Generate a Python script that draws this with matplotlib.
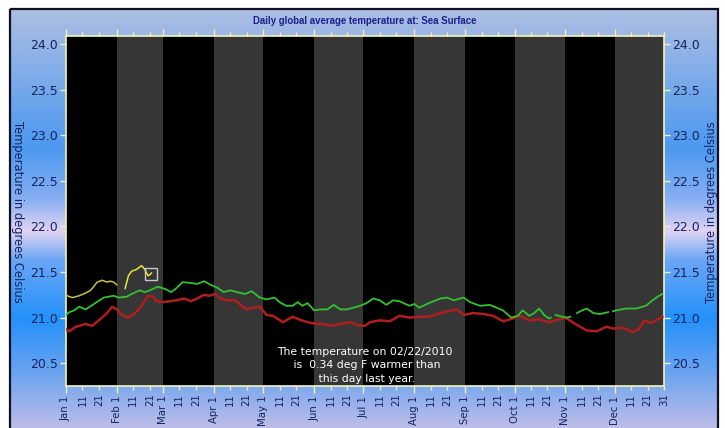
import numpy as np
import matplotlib
matplotlib.use("Agg")
import matplotlib.pyplot as plt
from matplotlib.colors import LinearSegmentedColormap
from matplotlib.patches import Rectangle

# ---------------- data ----------------
month_starts = [0, 31, 59, 90, 120, 151, 181, 212, 243, 273, 304, 334]
month_names = ["Jan", "Feb", "Mar", "Apr", "May", "Jun", "Jul", "Aug", "Sep", "Oct", "Nov", "Dec"]
year_end = 364

yellow_a_days = [0, 2, 4, 8, 12, 15, 19, 22, 25, 27, 29, 31]
yellow_a_vals = [21.25, 21.23, 21.22, 21.24, 21.27, 21.30, 21.39, 21.41, 21.39, 21.40, 21.39, 21.36]
yellow_b_days = [36, 38, 40, 43, 46, 48, 49, 50, 51, 52]
yellow_b_vals = [21.32, 21.46, 21.51, 21.53, 21.57, 21.53, 21.49, 21.46, 21.47, 21.49]
marker_day = 52
marker_val = 21.48

green_days = [0, 2, 5, 8, 12, 17, 23, 29, 32, 37, 40, 45, 48, 51, 56, 61, 64, 67, 71, 76,
              80, 84, 88, 92, 96, 100, 104, 109, 113, 118, 122, 127, 130, 134, 138, 141,
              144, 147, 151, 155, 159, 163, 167, 171, 175, 179, 183, 187, 191, 195, 199,
              203, 209, 212, 215, 221, 228, 232, 236, 242, 246, 252, 258, 262, 266, 271,
              275, 278, 282, 285, 288, 291, 294, 295, 296, 298, 302, 305, 307, 308, 311, 313, 317,
              321, 325, 330, 331, 333, 335, 341, 347, 353, 357, 361, 363]
green_vals = [21.03, 21.06, 21.08, 21.12, 21.09, 21.15, 21.22, 21.24, 21.22, 21.23, 21.26,
              21.30, 21.28, 21.30, 21.34, 21.31, 21.28, 21.32, 21.39, 21.38, 21.37, 21.40,
              21.36, 21.33, 21.28, 21.30, 21.28, 21.26, 21.29, 21.22, 21.20, 21.22, 21.17,
              21.13, 21.13, 21.17, 21.13, 21.16, 21.08, 21.09, 21.09, 21.14, 21.09, 21.09,
              21.11, 21.13, 21.16, 21.21, 21.19, 21.14, 21.19, 21.18, 21.13, 21.15, 21.11,
              21.16, 21.21, 21.22, 21.19, 21.22, 21.17, 21.13, 21.14, 21.11, 21.08, 21.00,
              21.02, 21.08, 21.02, 21.05, 21.10, 21.03, 20.99, 21.00, np.nan, 21.03, 21.01,
              21.00, 21.01, np.nan, 21.05, 21.07, 21.10, 21.05, 21.04, 21.06, np.nan, 21.07,
              21.08, 21.10, 21.10, 21.13, 21.19, 21.24, 21.26]

red_days = [0, 2, 6, 12, 16, 20, 25, 28, 31, 34, 38, 42, 46, 50, 53, 55, 59, 63, 67, 72,
            76, 80, 84, 87, 91, 94, 98, 103, 107, 110, 114, 118, 122, 126, 132, 138, 142,
            147, 153, 157, 161, 167, 173, 177, 182, 185, 191, 197, 203, 209, 215, 221, 228,
            232, 238, 242, 248, 254, 260, 266, 272, 276, 282, 288, 294, 300, 304, 311, 317,
            323, 329, 333, 339, 345, 349, 352, 356, 361, 363]
red_vals = [20.87, 20.85, 20.90, 20.93, 20.91, 20.97, 21.05, 21.12, 21.09, 21.03, 21.00,
            21.05, 21.13, 21.24, 21.23, 21.18, 21.17, 21.18, 21.19, 21.21, 21.18, 21.21,
            21.25, 21.24, 21.26, 21.21, 21.19, 21.19, 21.13, 21.09, 21.11, 21.12, 21.03,
            21.02, 20.95, 21.01, 20.98, 20.95, 20.93, 20.93, 20.91, 20.93, 20.95, 20.92,
            20.91, 20.95, 20.97, 20.96, 21.02, 21.00, 21.01, 21.01, 21.05, 21.07, 21.09,
            21.03, 21.05, 21.04, 21.02, 20.96, 20.99, 21.02, 20.97, 20.98, 20.95, 20.98,
            21.00, 20.92, 20.86, 20.85, 20.90, 20.88, 20.89, 20.84, 20.88, 20.97, 20.94,
            20.99, 21.01]

y_ticks = [20.5, 21.0, 21.5, 22.0, 22.5, 23.0, 23.5, 24.0]
title = "Daily global average temperature at: Sea Surface"
ylabel = "Temperature in degrees Celsius"
note = "The temperature on 02/22/2010\n is  0.34 deg F warmer than\n this day last year."

# ---------------- figure ----------------
W, H = 725, 428
fig = plt.figure(figsize=(W / 100, H / 100), dpi=100)
fig.patch.set_facecolor("white")

bg = fig.add_axes([0, 0, 1, 1], zorder=-5)
bg.set_xlim(0, W)
bg.set_ylim(H, 0)
bg.axis("off")
grad = LinearSegmentedColormap.from_list("bg", [
    (0.00, (0.68, 0.75, 0.89)),
    (0.12, (0.54, 0.69, 0.91)),
    (0.33, (0.30, 0.60, 0.94)),
    (0.45, (0.52, 0.68, 0.95)),
    (0.53, (0.88, 0.83, 0.95)),
    (0.60, (0.42, 0.65, 0.96)),
    (0.74, (0.14, 0.57, 0.98)),
    (0.87, (0.42, 0.64, 0.94)),
    (1.00, (0.74, 0.74, 0.91)),
])
bg.imshow(np.linspace(0, 1, 256).reshape(-1, 1), cmap=grad, aspect="auto",
          extent=[11, 718, 428, 9], zorder=0)
bg.add_patch(Rectangle((10.5, 8.5), 707.5, 425, fill=False, ec="#101020", lw=1.6, zorder=2))

ax = fig.add_axes([66 / W, 1 - 386 / H, 598 / W, 350 / H])
ax.set_facecolor("black")
for i, s in enumerate(month_starts):
    e = month_starts[i + 1] if i + 1 < len(month_starts) else year_end
    ax.axvspan(s, e, color="black" if i % 2 == 0 else "#363636", lw=0, zorder=0)

ax.plot(red_days, red_vals, color="#b01e1e", lw=1.8, zorder=3)
ax.plot(green_days, green_vals, color="#33c12f", lw=1.3, zorder=4)
ax.plot(yellow_a_days, yellow_a_vals, color="#c8c24a", lw=1.1, zorder=5)
ax.plot(yellow_b_days, yellow_b_vals, color="#e8e43a", lw=1.1, zorder=5)
ax.plot([marker_day], [marker_val], marker="s", ms=8.5, mfc="none", mec="#c8c8c8",
        mew=1.0, zorder=6)

ax.set_xlim(0, year_end)
ax.set_ylim(20.25, 24.09)

minor = []
for s in month_starts:
    minor += [s + 10, s + 20]
ax.set_xticks(month_starts)
ax.set_xticklabels([f"{m} 1" for m in month_names])
ax.set_xticks(minor + [year_end], minor=True)
ax.set_xticklabels(["11", "21"] * 12 + ["31"], minor=True)

navy = "#16235e"
tickc = "#f0f0c8"
ax.tick_params(axis="x", which="both", rotation=90, labelsize=7.3, labelcolor=navy,
               color=tickc, top=True, bottom=True, direction="out", pad=2)
ax.tick_params(axis="x", which="major", length=5, width=1.0)
ax.tick_params(axis="x", which="minor", length=3, width=1.0)
ax.set_yticks(y_ticks)
ax.set_yticklabels([f"{v:.1f}" for v in y_ticks])
ax.tick_params(axis="y", labelsize=9, labelcolor=navy, color=tickc, left=True,
               right=True, labelleft=True, labelright=True, length=4, width=1.0, pad=2)
for sp in ax.spines.values():
    sp.set_color("#f4f4b8")
    sp.set_linewidth(1.2)

ttl = fig.text(365 / W, 1 - 21 / H, title, ha="center", va="center", fontsize=8.0,
               fontweight="bold", color="#1e1e8c", family=["Liberation Sans", "DejaVu Sans"])
fig.canvas.draw()
tw = ttl.get_window_extent(fig.canvas.get_renderer()).width
if tw > 0:
    ttl.set_fontsize(8.0 * 226 / tw)

fig.text(17 / W, 1 - 212 / H, ylabel, ha="center", va="center", rotation=-90,
         fontsize=8.3, color=navy)
fig.text(712 / W, 1 - 212 / H, ylabel, ha="center", va="center", rotation=90,
         fontsize=8.3, color=navy)

ax.text(182, 20.475, note, ha="center", va="center", color="white", fontsize=7.8,
        linespacing=1.45, multialignment="center", zorder=7)

fig.savefig("out.png", dpi=100, facecolor="white")
